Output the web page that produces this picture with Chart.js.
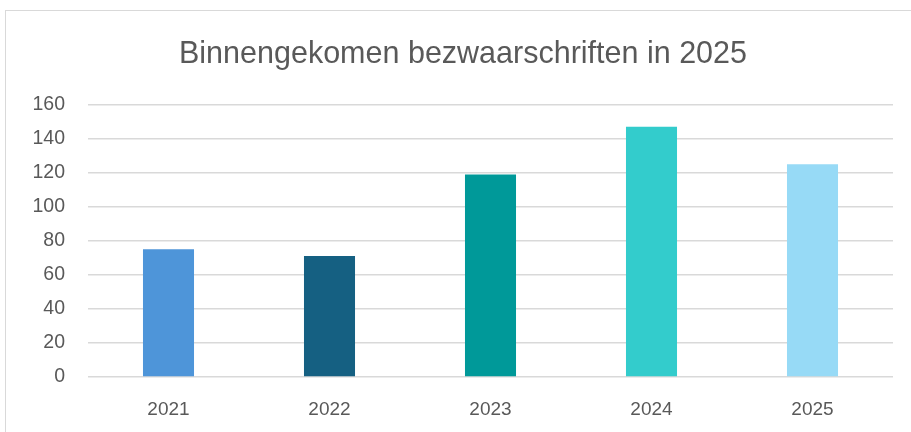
<!DOCTYPE html>
<html><head><meta charset="utf-8">
<script src="https://cdn.jsdelivr.net/npm/chart.js@4"></script>
<style>
html,body{margin:0;padding:0;background:#fff;width:911px;height:432px;overflow:hidden;}
#frame{position:absolute;left:5px;top:10px;width:920px;height:440px;border:1px solid #d9d9d9;box-sizing:border-box;}
#wrap{position:absolute;left:0;top:0;width:911px;height:432px;}
</style></head>
<body>
<div id="frame"></div>
<div id="wrap"><canvas id="c" width="911" height="432"></canvas></div>
<script>
const categories = ["2021", "2022", "2023", "2024", "2025"];
const values = [75, 71, 119, 147, 125];
const barColors = ["#4E95D9", "#156082", "#009999", "#33CCCC", "#97DAF6"];
const yTicks = [0, 20, 40, 60, 80, 100, 120, 140, 160];
const titleText = "Binnengekomen bezwaarschriften in 2025";

new Chart(document.getElementById('c'), {
  type: 'bar',
  data: {
    labels: categories,
    datasets: [{ data: values, backgroundColor: barColors, borderWidth: 0, barPercentage: 0.317, categoryPercentage: 1 }]
  },
  options: {
    responsive: false,
    animation: false,
    layout: { padding: { left: 33, right: 18, top: 0, bottom: 0 } },
    plugins: {
      legend: { display: false },
      tooltip: { enabled: false },
      title: {
        display: true, text: titleText, color: '#595959',
        font: { family: "'Liberation Sans', Arial", size: 30.5, weight: 'normal' },
        padding: { top: 36, bottom: 32 }
      }
    },
    scales: {
      x: {
        grid: { display: false },
        border: { display: false },
        ticks: { color: '#595959', padding: 13, font: { family: "'Liberation Sans', Arial", size: 19 } },
        afterFit: s => { s.height = 55; }
      },
      y: {
        min: 0, max: 160,
        afterBuildTicks: s => { s.ticks = yTicks.map(v => ({ value: v })); },
        grid: { color: '#d9d9d9', lineWidth: 1.5, drawTicks: false },
        border: { display: false },
        ticks: { color: '#595959', padding: 23, font: { family: "'Liberation Sans', Arial", size: 19.5 } },
        afterFit: s => { s.width = 55; }
      }
    }
  }
});
</script>
</body></html>
